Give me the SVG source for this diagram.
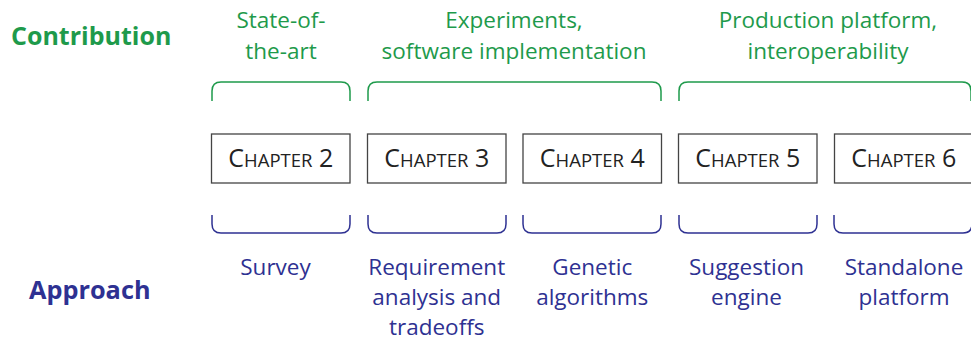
<svg xmlns="http://www.w3.org/2000/svg" width="971" height="341" viewBox="0 0 971 341">
<style>
text{font-family:"Open Sans","Noto Sans",sans-serif;text-anchor:middle}
.g{fill:#1e9a4b;font-size:22.5px}
.b{fill:#2e3192;font-size:22.5px}
.hg{fill:#1e9a4b;font-size:25px;font-weight:bold;text-anchor:start}
.hb{fill:#2e3192;font-size:25.3px;font-weight:bold;text-anchor:start}
.box{fill:#fff;stroke:#444;stroke-width:1.3}
.ch{fill:#222;font-size:25px}
.sc{font-size:18.5px}
.bg{fill:none;stroke:#1e9a4b;stroke-width:1.5}
.bb{fill:none;stroke:#2e3192;stroke-width:1.5}
</style>
<rect width="971" height="341" fill="#fff"/>
<g id="labels">
<text class="hg" x="11" y="45">Contribution</text>
<text class="hb" x="29" y="299">Approach</text>
</g>
<g id="contrib">
<text class="g" x="281" y="27.5">State-of-</text>
<text class="g" x="281" y="58.5">the-art</text>
<text class="g" x="514" y="27.5">Experiments,</text>
<text class="g" x="514" y="58.5">software implementation</text>
<text class="g" x="828" y="27.5">Production platform,</text>
<text class="g" x="828" y="58.5">interoperability</text>
</g>
<g id="connectors">
<path class="bg" d="M212,101 V91 Q212,82 221,82 H341 Q350,82 350,91 V101"/>
<path class="bg" d="M368,101 V91 Q368,82 377,82 H652 Q661,82 661,91 V101"/>
<path class="bg" d="M679,101 V91 Q679,82 688,82 H962 Q971,82 971,91 V101"/>
<path class="bb" d="M212,215 V224 Q212,233 221,233 H341 Q350,233 350,224 V215"/>
<path class="bb" d="M368,215 V224 Q368,233 377,233 H497 Q506,233 506,224 V215"/>
<path class="bb" d="M523,215 V224 Q523,233 532,233 H652 Q661,233 661,224 V215"/>
<path class="bb" d="M679,215 V224 Q679,233 688,233 H808 Q817,233 817,224 V215"/>
<path class="bb" d="M834,215 V224 Q834,233 843,233 H963 Q972,233 972,224 V215"/>
</g>
<g id="ch2"><rect class="box" x="211.5" y="134" width="138.5" height="49"/><text class="ch" x="280.75" y="167">C<tspan class="sc">HAPTER</tspan> 2</text></g>
<g id="ch3"><rect class="box" x="367.5" y="134" width="138.5" height="49"/><text class="ch" x="436.75" y="167">C<tspan class="sc">HAPTER</tspan> 3</text></g>
<g id="ch4"><rect class="box" x="523" y="134" width="138.5" height="49"/><text class="ch" x="592.25" y="167">C<tspan class="sc">HAPTER</tspan> 4</text></g>
<g id="ch5"><rect class="box" x="678.5" y="134" width="138.5" height="49"/><text class="ch" x="747.75" y="167">C<tspan class="sc">HAPTER</tspan> 5</text></g>
<g id="ch6"><rect class="box" x="834.5" y="134" width="138.5" height="49"/><text class="ch" x="903.75" y="167">C<tspan class="sc">HAPTER</tspan> 6</text></g>
<g id="approach">
<text class="b" x="275.5" y="275">Survey</text>
<text class="b" x="436.75" y="275">Requirement</text>
<text class="b" x="436.75" y="305">analysis and</text>
<text class="b" x="436.75" y="335">tradeoffs</text>
<text class="b" x="592.25" y="275">Genetic</text>
<text class="b" x="592.25" y="305">algorithms</text>
<text class="b" x="746.5" y="275">Suggestion</text>
<text class="b" x="746.5" y="305">engine</text>
<text class="b" x="904" y="275">Standalone</text>
<text class="b" x="904" y="305">platform</text>
</g>
</svg>
